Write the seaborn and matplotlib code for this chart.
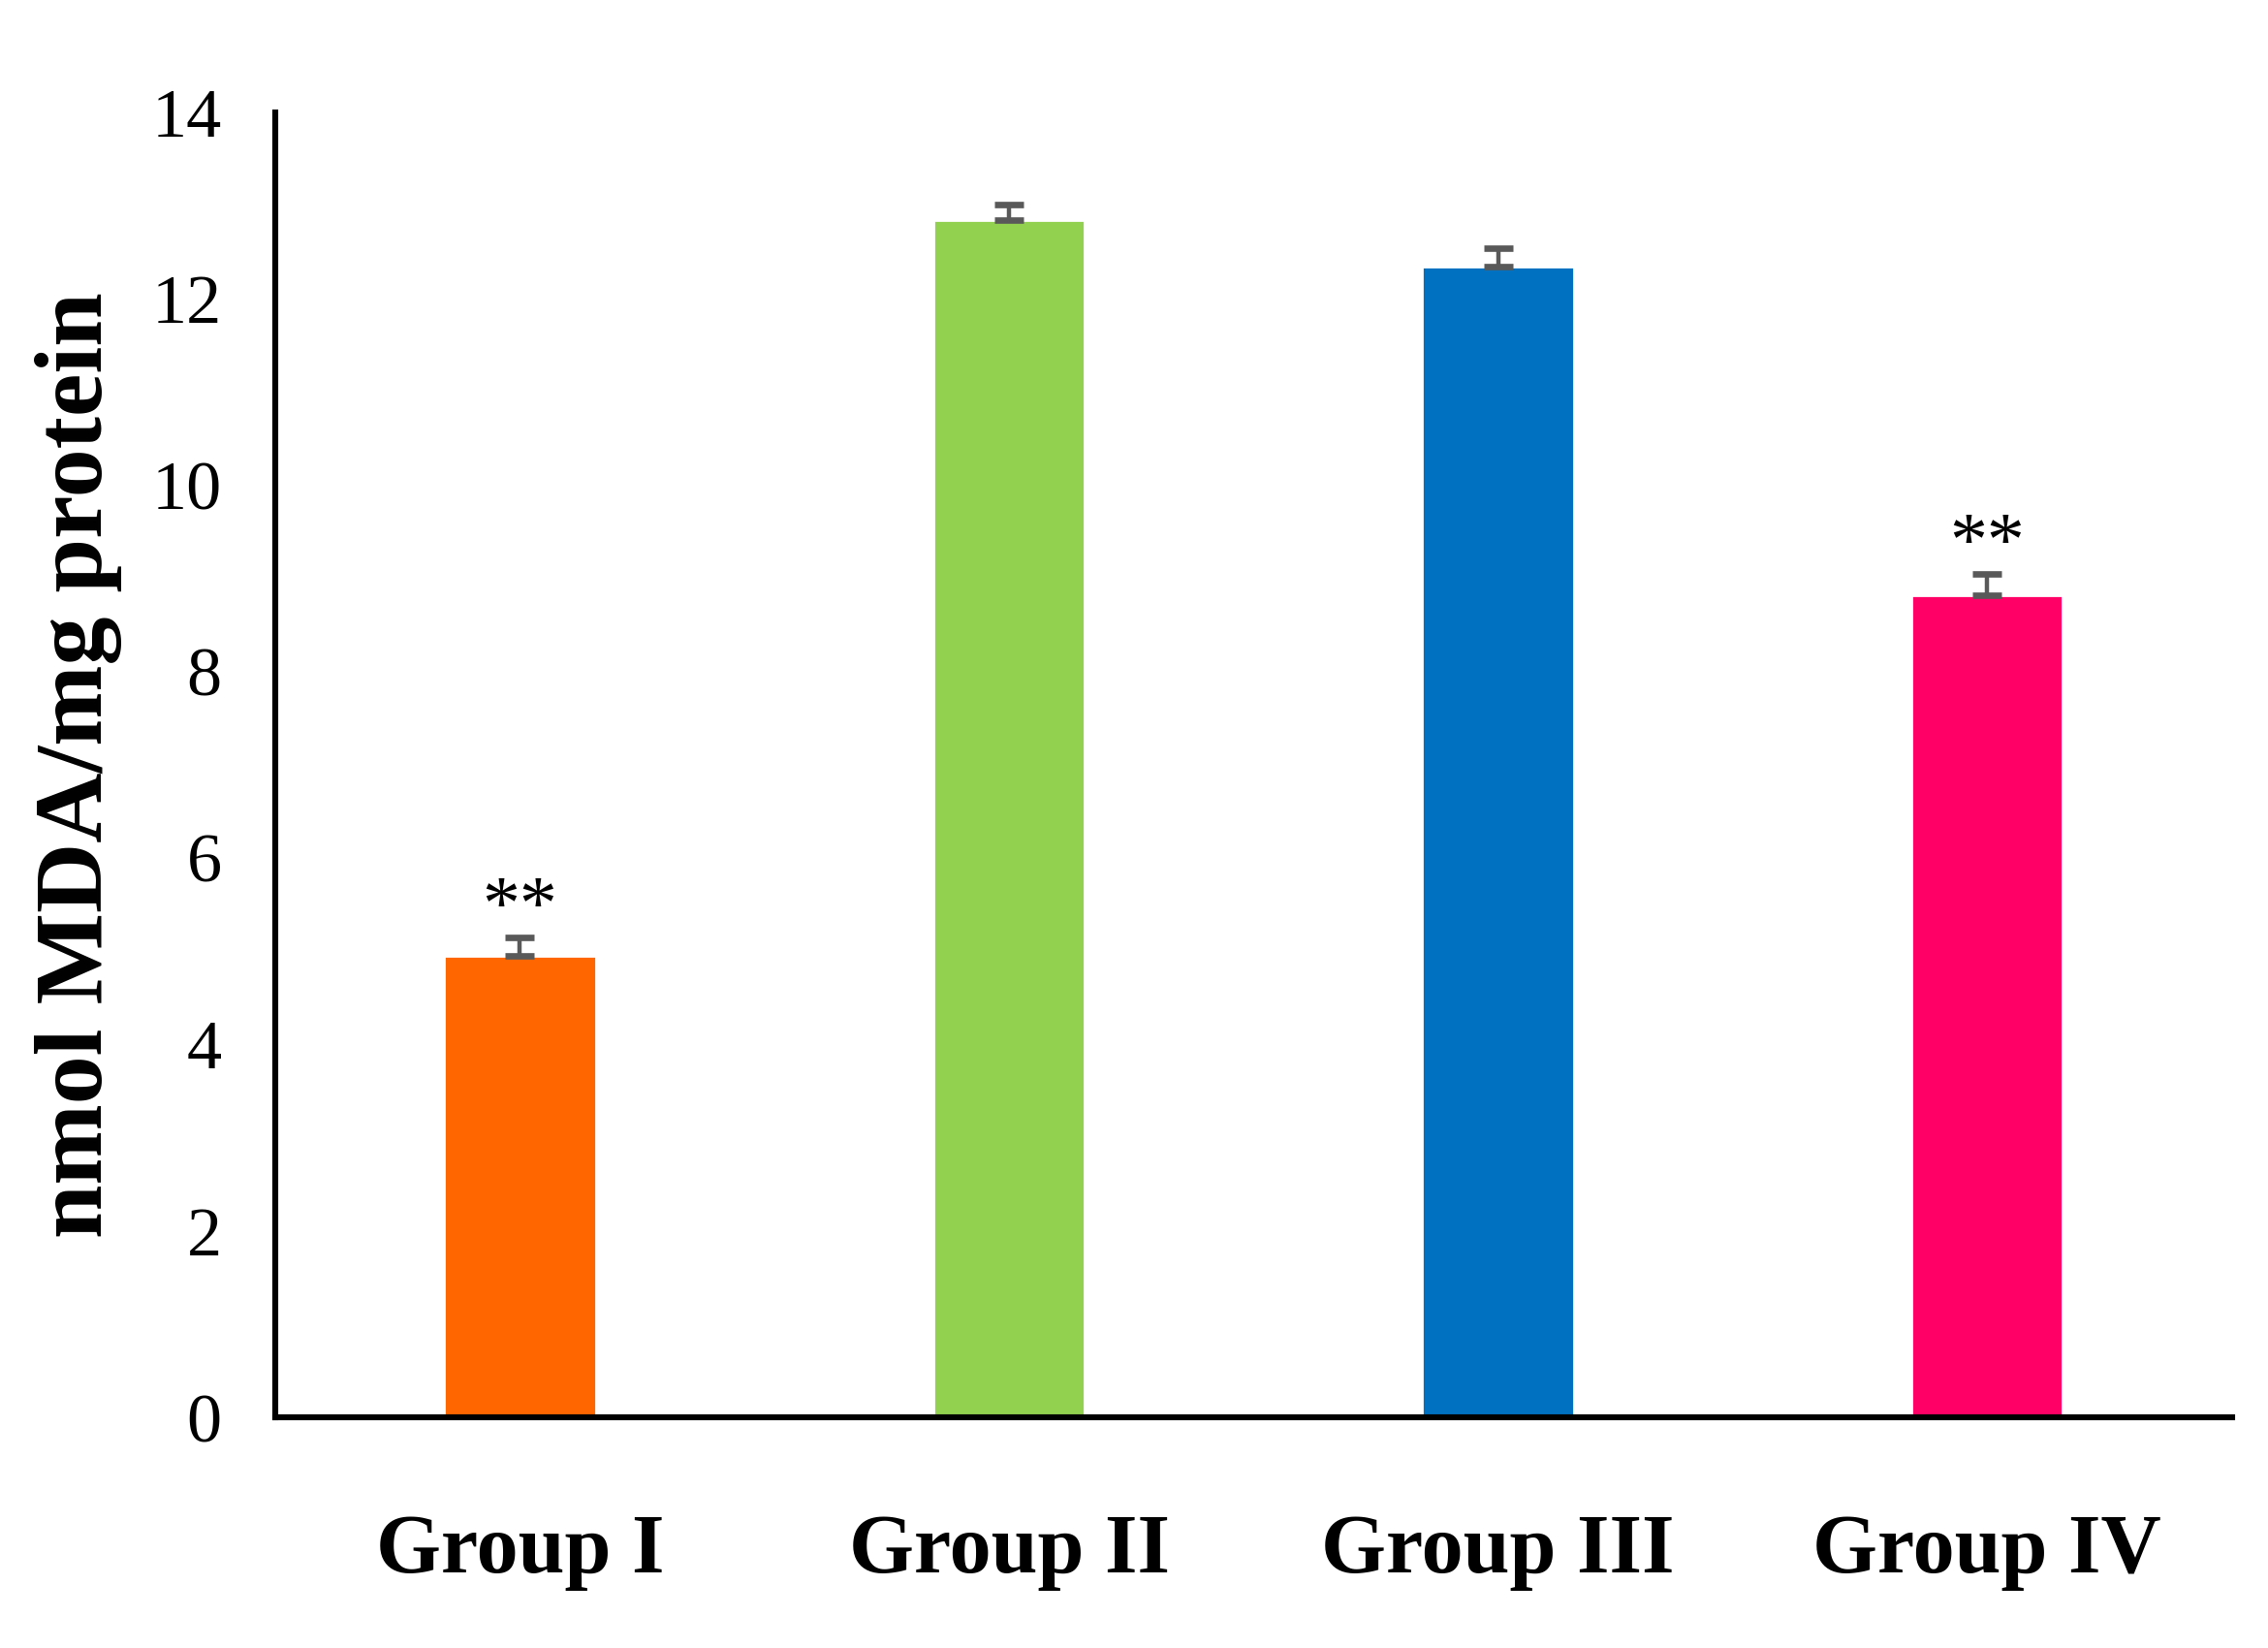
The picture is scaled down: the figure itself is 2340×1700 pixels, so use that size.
import numpy as np
import pandas as pd
import matplotlib
matplotlib.use("Agg")
import matplotlib.pyplot as plt
import seaborn as sns

# data
groups = ["Group I", "Group II", "Group III", "Group IV"]
mda_mean = [4.95, 12.84, 12.34, 8.82]
mda_err = [0.20, 0.17, 0.20, 0.23]
signif = ["**", "", "", "**"]
bar_colors = ["#FF6600", "#92D050", "#0070C0", "#FF0066"]

sns.set_theme(style="white")
plt.rcParams["font.family"] = ["Liberation Serif", "DejaVu Serif"]
plt.rcParams["text.color"] = "black"
plt.rcParams["xtick.color"] = "black"
plt.rcParams["ytick.color"] = "black"
plt.rcParams["axes.labelcolor"] = "black"

df = pd.DataFrame({"group": groups, "mda": mda_mean})

fig = plt.figure(figsize=(11.7, 8.5), dpi=200)
ax = fig.add_axes([0.1214, 0.140, 0.8626, 0.792])

sns.barplot(data=df, x="group", y="mda", hue="group", palette=bar_colors,
            width=0.31, legend=False, ax=ax, saturation=1)

# upper error bars only
xpos = np.arange(len(groups))
ax.errorbar(xpos, mda_mean, yerr=[np.zeros(len(groups)), mda_err],
            fmt="none", ecolor="#595959", elinewidth=1.6, capsize=5.5, capthick=2.4)

for x, m, e, s in zip(xpos, mda_mean, mda_err, signif):
    if s:
        ax.text(x, m + e + 0.3, s, ha="center", va="center", fontsize=28, color="black")

ax.set_ylim(0, 14)
ax.set_xlim(-0.5, 3.5)
ax.set_yticks(range(0, 15, 2))
ax.tick_params(axis="y", labelsize=26, length=0, pad=20)
ax.tick_params(axis="x", labelsize=31, length=0, pad=36)
for lbl in ax.get_xticklabels():
    lbl.set_fontweight("bold")

ax.set_xlabel("")
ax.set_ylabel("nmol MDA/mg protein", fontsize=36, fontweight="bold", labelpad=11)

sns.despine(ax=ax)
for side in ["left", "bottom"]:
    ax.spines[side].set_linewidth(2.2)
    ax.spines[side].set_color("black")

fig.savefig("out.png", dpi=200, facecolor="white")
